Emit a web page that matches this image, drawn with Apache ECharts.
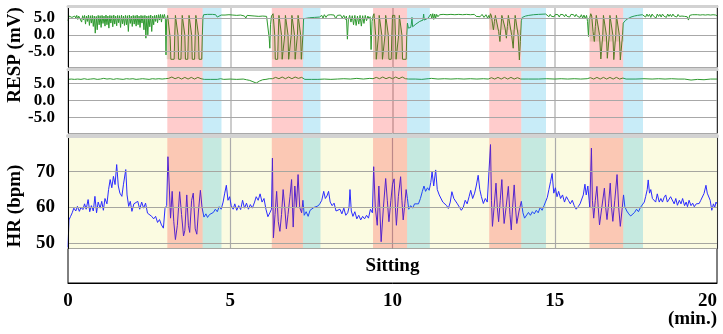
<!DOCTYPE html>
<html><head><meta charset="utf-8">
<script src="https://cdn.jsdelivr.net/npm/echarts@6/dist/echarts.min.js"></script>
<style>html,body{margin:0;padding:0;background:#fff}#c{width:723px;height:334px}</style>
</head><body><div id="c"></div>
<script>
// ---------- data ----------
const xTicks = [0, 5, 10, 15, 20];
const respTicks = [-5, 0, 5];
const hrTicks = [50, 60, 70];
const pinkStart = [3.06, 6.28, 9.40, 12.98, 16.07];
const pinkEnd   = [4.15, 7.24, 10.45, 13.97, 17.11];
const blueEnd   = [4.73, 7.78, 11.15, 14.73, 17.72];
const bandFloor = [-7.3, -7.3, -7.3, 1.5, -2.0];
const phases = [{name: 'Sitting', start: 0, end: 20}];

const resp1 = [
[0,4.2],[0.03,5.6],[0.06,5.4],[0.09,5.8],[0.12,5.2],[0.15,5.7],[0.18,4.8],[0.21,5.6],[0.24,5.0],[0.27,5.8],[0.3,4.6],[0.33,5.6],[0.36,5.2],[0.39,5.9],[0.42,3.8],[0.45,5.7],[0.48,4.5],[0.51,5.8],[0.54,3.2],[0.57,5.6],[0.6,4.0],[0.63,5.9],[0.66,2.8],[0.69,5.7],[0.72,3.5],[0.75,5.8],[0.78,2.5],[0.81,5.6],[0.84,0.5],[0.87,5.5],[0.9,1.5],[0.93,5.8],[0.96,3.0],[0.99,5.7],[1.02,2.2],[1.05,5.8],[1.08,3.4],[1.11,5.6],[1.14,2.6],[1.17,5.9],[1.2,3.0],[1.23,5.6],[1.26,2.0],[1.29,5.8],[1.32,3.5],[1.35,5.7],[1.38,2.4],[1.41,5.9],[1.44,3.2],[1.47,5.6],[1.5,2.7],[1.53,5.8],[1.56,3.6],[1.59,5.7],[1.62,2.2],[1.65,5.9],[1.68,3.3],[1.71,5.6],[1.74,2.8],[1.77,5.8],[1.8,3.0],[1.83,5.7],[1.86,1.0],[1.89,5.9],[1.92,3.4],[1.95,5.6],[1.98,2.5],[2.01,5.8],[2.04,3.2],[2.07,5.7],[2.1,2.6],[2.13,5.9],[2.16,3.0],[2.19,5.6],[2.22,2.2],[2.25,5.8],[2.28,3.5],[2.31,5.7],[2.34,1.5],[2.37,5.8],[2.4,-1.0],[2.43,5.6],[2.46,0.0],[2.49,5.7],[2.52,2.4],[2.55,5.9],[2.58,1.0],[2.61,5.6],[2.64,3.0],[2.67,5.8],[2.7,4.0],[2.73,5.9],[2.76,3.6],[2.79,6.0],[2.82,4.4],[2.85,6.1],[2.88,3.8],[2.91,6.0],[2.94,4.8],[2.97,6.1],
[3.0,4.8],[3.02,-6.0],[3.04,4.5],[3.07,5.8],[3.1,6.2],[3.13,5.8],[3.15,-1],[3.17,-7.3],[3.27,-7.3],[3.29,0],[3.31,5.8],[3.34,6.2],[3.37,5.8],[3.39,0],[3.41,-7.3],[3.48,-7.3],[3.5,0],[3.52,5.8],[3.55,6.2],[3.58,5.8],[3.6,0],[3.62,-7.3],[3.69,-7.3],[3.71,0],[3.73,5.8],[3.76,6.2],[3.79,5.8],[3.81,0],[3.83,-7.3],[3.9,-7.3],[3.92,0],[3.94,5.8],[3.97,6.2],[4.0,5.8],[4.02,0],[4.04,-7.3],[4.12,-7.3],[4.14,0],[4.16,5.3],
[4.18,6.0],[4.3,6.1],[4.45,6.1],[4.55,6.0],[4.6,5.3],[4.66,5.2],[4.72,5.9],
[4.78,6.1],[4.84,5.9],[4.9,6.2],[4.96,6.0],[5.02,6.2],[5.08,5.9],[5.14,6.1],[5.2,5.8],[5.26,6.1],[5.32,5.9],[5.38,6.0],[5.44,5.6],[5.48,5.0],[5.52,5.8],[5.58,6.0],[5.64,5.7],[5.7,5.9],[5.76,5.6],[5.82,5.9],[5.88,5.5],[5.94,5.8],[6.0,5.6],[6.06,5.9],[6.12,5.5],[6.16,5.2],[6.2,-1],[6.22,-4.0],[6.24,3],[6.27,5.6],
[6.29,5.8],[6.32,6.3],[6.35,5.8],[6.37,0],[6.39,-7.3],[6.46,-7.3],[6.48,0],[6.5,5.8],[6.53,6.3],[6.56,5.8],[6.58,0],[6.6,-7.3],[6.66,-7.3],[6.68,0],[6.7,5.8],[6.73,6.3],[6.76,5.8],[6.78,0],[6.8,-7.3],[6.86,-7.3],[6.88,0],[6.9,5.8],[6.93,6.3],[6.96,5.8],[6.98,0],[7.0,-7.3],[7.05,-7.3],[7.07,0],[7.09,5.8],[7.12,6.3],[7.15,5.8],[7.17,0],[7.19,-7.3],[7.22,-7.3],[7.24,0],[7.26,4.8],
[7.3,5.0],[7.45,5.1],[7.6,5.2],[7.75,5.3],
[7.82,5.8],[7.86,5.0],[7.9,6.0],[7.95,5.2],[8.0,5.9],[8.05,5.4],[8.1,6.0],[8.15,5.5],[8.2,5.9],[8.25,4.8],[8.3,5.8],[8.35,5.3],[8.4,5.9],[8.45,5.0],[8.5,5.8],[8.55,4.6],[8.58,5.6],[8.61,-1.3],[8.64,4.5],[8.68,5.8],[8.72,3.8],[8.76,5.7],[8.8,3.0],[8.84,5.8],[8.88,2.8],[8.92,5.6],[8.96,3.2],[9.0,5.8],[9.04,2.6],[9.08,5.7],[9.12,3.4],[9.16,5.8],[9.2,4.2],[9.24,5.6],[9.28,4.8],[9.31,5.4],[9.34,-4.4],[9.37,4.0],
[9.4,5.6],[9.43,6.3],[9.46,5.8],[9.48,0],[9.5,-7.3],[9.55,-7.3],[9.57,0],[9.59,5.8],[9.62,6.3],[9.65,5.8],[9.67,0],[9.69,-7.3],[9.75,-7.3],[9.77,0],[9.79,5.8],[9.82,6.3],[9.85,5.8],[9.87,0],[9.89,-7.3],[9.96,-7.3],[9.98,0],[10.0,5.8],[10.04,6.3],[10.07,5.8],[10.09,0],[10.11,-7.3],[10.17,-7.3],[10.19,0],[10.21,5.8],[10.24,6.3],[10.27,5.8],[10.29,0],[10.31,-7.3],[10.42,-7.3],[10.44,0],[10.46,3.5],
[10.49,2.0],[10.52,1.6],[10.56,2.2],[10.58,3.2],[10.6,5.2],[10.62,2.4],[10.66,2.8],[10.72,3.2],[10.78,3.6],[10.84,4.0],[10.9,4.2],[10.94,4.4],[10.96,6.2],[10.98,4.4],[11.04,4.6],[11.1,5.0],[11.15,5.2],
[11.18,6.2],[11.21,4.8],[11.24,6.3],[11.27,4.6],[11.3,6.2],[11.33,5.0],[11.36,6.1],[11.4,5.4],[11.45,6.0],[11.5,5.6],[11.56,6.1],[11.62,5.7],[11.68,6.0],[11.74,5.6],[11.8,6.1],[11.86,5.8],[11.92,6.0],[11.98,5.6],[12.04,6.1],[12.1,5.7],[12.16,6.0],[12.22,5.6],[12.28,6.1],[12.34,5.8],[12.4,6.0],[12.46,5.6],[12.52,6.1],[12.58,5.5],[12.64,6.0],[12.7,5.4],[12.76,6.1],[12.82,5.2],[12.88,6.0],[12.93,5.0],[12.97,5.8],
[12.99,5.0],[13.02,6.3],[13.05,5.6],[13.08,3.5],[13.11,1.5],[13.14,4.0],[13.17,5.8],[13.2,6.3],[13.23,5.6],[13.27,1.0],[13.31,-2.0],[13.34,2.0],[13.37,5.8],[13.4,6.3],[13.43,5.6],[13.47,2.0],[13.51,-1.0],[13.54,2.5],[13.57,5.8],[13.6,6.3],[13.63,5.6],[13.67,0],[13.72,-4.0],[13.75,1.5],[13.78,5.8],[13.81,6.3],[13.84,5.6],[13.87,0],[13.91,-7.5],[13.94,-2],[13.97,4.2],
[14.0,5.2],[14.1,5.6],[14.2,5.8],[14.35,6.0],[14.5,6.1],[14.72,6.2],
[14.78,6.0],[14.82,5.4],[14.86,6.1],[14.9,5.5],[14.94,6.0],[14.98,5.4],[15.02,6.1],[15.06,5.6],[15.1,6.0],[15.14,5.3],[15.18,6.1],[15.22,5.6],[15.26,6.0],[15.3,5.4],[15.34,6.1],[15.38,5.5],[15.42,6.0],[15.46,5.3],[15.5,6.1],[15.54,5.6],[15.58,6.0],[15.62,5.4],[15.66,6.1],[15.7,5.5],[15.74,6.0],[15.78,5.2],[15.82,6.0],[15.86,5.0],[15.9,5.9],[15.94,4.8],[15.98,5.8],[16.01,4.0],[16.04,-0.5],[16.06,4.5],
[16.08,5.2],[16.11,6.3],[16.14,5.6],[16.18,1.0],[16.22,-2.0],[16.25,2.5],[16.28,5.8],[16.31,6.3],[16.34,5.6],[16.38,0],[16.42,-7.2],[16.46,-7.2],[16.48,0],[16.5,5.8],[16.53,6.3],[16.56,5.6],[16.59,0],[16.62,-7.0],[16.66,-7.0],[16.68,0],[16.7,5.8],[16.73,6.3],[16.76,5.6],[16.79,0],[16.82,-7.4],[16.86,-7.4],[16.88,0],[16.9,5.8],[16.93,6.3],[16.96,5.6],[16.99,0],[17.02,-7.5],[17.07,-7.5],[17.09,0],[17.11,3.5],
[17.13,3.6],[17.18,4.3],[17.25,4.8],[17.35,5.3],[17.45,5.6],[17.55,5.8],[17.7,6.0],
[17.76,6.1],[17.8,5.3],[17.84,6.2],[17.88,5.5],[17.92,6.1],[17.96,5.2],[18.0,6.2],[18.04,5.6],[18.08,6.0],[18.12,5.0],[18.16,6.2],[18.2,5.5],[18.24,6.1],[18.28,5.3],[18.32,6.2],[18.36,5.6],[18.4,6.0],[18.44,5.2],[18.48,6.2],[18.52,5.5],[18.56,6.1],[18.6,5.4],[18.64,6.2],[18.68,5.6],[18.72,6.0],[18.76,5.3],[18.8,6.1],[18.84,5.5],[18.88,6.0],[18.92,5.6],[18.96,6.1],[19.0,5.5],[19.04,6.0],[19.08,5.4],[19.12,4.4],[19.16,5.8],[19.2,5.5],[19.24,6.0],[19.28,5.6],[19.32,6.0],[19.36,5.5],[19.4,6.0],[19.44,5.6],[19.48,5.9],[19.52,5.5],[19.56,6.0],[19.6,5.6],[19.64,5.9],[19.68,5.5],[19.72,6.0],[19.76,5.6],[19.8,5.9],[19.84,5.5],[19.88,6.0],[19.92,5.6],[19.96,5.9],[20,5.7]
];

const resp2 = [
[0,6.3],[0.1,6.4],[0.2,6.3],[0.3,6.4],[0.4,6.3],[0.5,6.5],[0.6,6.3],[0.7,6.4],[0.8,6.5],[0.9,6.3],[1.0,6.4],[1.1,6.6],[1.2,6.4],[1.3,6.5],[1.4,6.3],[1.5,6.5],[1.6,6.4],[1.7,6.3],[1.8,6.5],[1.9,6.4],[2.0,6.5],[2.1,6.3],[2.2,6.4],[2.3,6.5],[2.4,6.4],[2.5,6.3],[2.6,6.5],[2.7,6.4],[2.8,6.5],[2.9,6.4],[3.0,6.5],
[3.1,6.6],[3.2,7.0],[3.3,6.5],[3.4,6.9],[3.5,6.4],[3.6,6.9],[3.7,6.4],[3.8,6.9],[3.9,6.4],[4.0,6.9],[4.1,6.5],[4.2,6.3],
[4.4,6.3],[4.6,6.3],[4.7,6.5],[4.8,6.3],[5.0,6.4],[5.2,6.3],[5.4,6.4],[5.5,6.2],[5.6,6.0],[5.7,5.6],[5.8,5.2],[5.9,5.8],[6.0,6.2],[6.1,6.3],[6.2,6.5],
[6.3,6.5],[6.4,6.9],[6.5,6.5],[6.6,7.0],[6.7,6.5],[6.8,7.0],[6.9,6.5],[7.0,7.0],[7.1,6.6],[7.2,6.9],[7.3,6.3],
[7.5,6.3],[7.7,6.3],[7.9,6.4],[8.1,6.3],[8.3,6.4],[8.5,6.5],[8.7,6.4],[8.9,6.6],[9.1,6.4],[9.3,6.6],
[9.4,6.5],[9.5,6.9],[9.6,6.5],[9.7,7.0],[9.8,6.5],[9.9,6.9],[10.0,6.5],[10.1,7.0],[10.2,6.5],[10.3,7.0],[10.4,6.5],[10.5,6.4],
[10.7,6.4],[10.9,6.3],[11.1,6.5],[11.2,6.6],[11.4,6.4],[11.6,6.5],[11.8,6.4],[12.0,6.5],[12.2,6.4],[12.4,6.5],[12.6,6.4],[12.8,6.5],[12.95,6.4],
[13.05,6.8],[13.15,6.4],[13.25,6.9],[13.35,6.4],[13.45,6.9],[13.55,6.4],[13.65,6.9],[13.75,6.4],[13.85,6.8],[13.95,6.4],
[14.2,6.4],[14.5,6.4],[14.75,6.5],[15.0,6.4],[15.2,6.5],[15.4,6.4],[15.6,6.5],[15.8,6.4],[16.0,6.5],
[16.1,6.8],[16.2,6.4],[16.3,6.9],[16.4,6.4],[16.5,6.9],[16.6,6.4],[16.7,6.9],[16.8,6.4],[16.9,6.9],[17.0,6.4],[17.1,6.7],[17.2,6.4],
[17.5,6.4],[17.75,6.5],[18.0,6.4],[18.2,6.5],[18.4,6.4],[18.6,6.5],[18.8,6.4],[19.0,6.4],[19.2,6.1],[19.4,6.3],[19.6,6.2],[19.8,6.4],[20,6.4]
];

const hr = [
[0,48.8],[0.03,56.5],[0.08,57.5],[0.13,58.5],[0.18,59.8],[0.24,59.0],[0.29,60.3],[0.35,58.9],[0.40,60.0],[0.46,59.4],[0.51,61.0],[0.56,59.5],[0.62,62.2],[0.67,58.8],[0.72,60.5],[0.78,59.0],[0.83,63.1],[0.88,58.5],[0.93,61.5],[0.99,59.8],[1.04,61.7],[1.09,59.2],[1.14,62.5],[1.20,61.0],[1.25,65.0],[1.30,67.8],[1.35,65.5],[1.40,68.7],[1.45,66.4],[1.50,72.0],[1.55,66.0],[1.60,64.0],[1.66,63.1],[1.71,66.5],[1.78,70.6],[1.82,63.5],[1.87,60.3],[1.92,61.7],[1.97,58.9],[2.03,61.0],[2.09,60.5],[2.15,61.7],[2.21,59.5],[2.27,61.5],[2.33,59.8],[2.39,61.2],[2.45,58.4],[2.51,58.0],[2.58,57.5],[2.64,56.8],[2.70,57.5],[2.76,55.8],[2.82,56.6],[2.88,55.1],[2.94,54.2],[2.99,59.8],[3.04,60.5],
[3.08,74.2],[3.12,66],[3.16,57],[3.21,64.5],[3.26,56],[3.31,51],[3.37,55],[3.44,64.4],[3.50,58],[3.56,52],[3.60,53.5],[3.66,63.5],[3.71,55],[3.75,53],[3.81,62],[3.86,64],[3.92,54],[3.97,52.5],[4.02,59],[4.08,64.8],[4.13,60],[4.19,57.3],
[4.25,58.2],[4.3,57.2],[4.36,58],[4.42,57.6],[4.48,58.6],[4.54,59.5],[4.6,58.8],[4.66,60.2],[4.72,59.5],[4.78,61.5],[4.83,64],[4.88,66.2],[4.93,62],[4.98,63.0],[5.03,60.5],[5.09,59.5],
[5.14,61],[5.2,59.2],[5.26,60.5],[5.32,59.4],[5.38,62],[5.44,59.8],[5.5,61.2],[5.56,59.5],[5.62,60.8],[5.68,59.8],[5.75,61.5],[5.8,63],[5.86,62],[5.92,63.8],[5.98,61.5],[6.04,62.5],[6.1,59.5],[6.16,57.4],[6.22,58.5],[6.27,59.5],
[6.3,73.8],[6.33,51.5],[6.38,58],[6.43,64.5],[6.48,56],[6.53,53.3],[6.58,58],[6.63,65],[6.68,60],[6.73,54],[6.78,58],[6.84,63],[6.89,67.8],[6.94,54.5],[6.99,66],[7.04,60],[7.09,69.2],[7.14,60],[7.2,58.5],[7.24,62],
[7.28,57.8],[7.34,58.8],[7.4,57.5],[7.46,59.2],[7.52,59.5],[7.58,60.0],[7.64,60.5],[7.7,60.4],[7.76,61],
[7.82,62],[7.88,64.5],[7.93,62.5],[7.98,63.2],[8.03,64.5],[8.08,61.5],[8.14,60.5],[8.2,61.2],[8.26,59],[8.32,58.5],[8.38,59.5],[8.44,58.2],[8.5,59.8],[8.56,57.8],[8.62,58.5],[8.66,60],[8.69,65],[8.73,59],[8.78,57.5],[8.84,58.8],[8.9,56.8],[8.96,57.8],[9.02,56.5],[9.08,57.5],[9.14,56.8],[9.2,57.8],[9.26,57],[9.32,59.5],[9.38,58.5],
[9.42,71.4],[9.47,60],[9.53,55],[9.58,66],[9.65,50.4],[9.72,60],[9.79,68.1],[9.84,62],[9.89,56],[9.95,62],[10.0,66.5],[10.05,68.0],[10.09,60],[10.12,55],[10.18,63],[10.25,68.6],[10.29,62],[10.33,56.5],[10.38,61],[10.42,65],[10.46,62.5],
[10.5,59.5],[10.56,60.5],[10.62,59.8],[10.68,61],[10.74,61.5],[10.8,61],[10.86,62.5],[10.92,64.5],[10.97,66],[11.02,64.5],[11.08,65.5],[11.13,64.8],
[11.18,67],[11.22,70],[11.27,66],[11.33,70.5],[11.38,65],[11.44,63.5],[11.5,64],[11.55,61.5],[11.61,61],[11.67,60.5],[11.72,59.7],[11.78,61.5],[11.83,64.4],[11.89,62.5],[11.95,62],[12.0,61],[12.06,60.5],[12.12,59.2],[12.18,60],[12.24,62],[12.3,61],[12.36,63],[12.41,64.8],[12.47,62.5],[12.53,64],[12.58,66],[12.64,69],[12.69,65],[12.74,63],[12.8,61.1],[12.86,62.5],[12.92,61.5],[12.97,62],
[13.02,77.6],[13.05,62],[13.08,54.7],[13.13,60],[13.19,66.8],[13.23,60],[13.27,56],[13.32,62],[13.37,67.8],[13.41,60],[13.44,55.5],[13.5,60],[13.57,65.9],[13.62,58],[13.66,53.7],[13.7,60],[13.75,66.3],[13.79,60],[13.83,55.5],[13.9,59],[13.97,61.7],
[14.02,58.5],[14.07,57.0],[14.13,57.5],[14.19,58.6],[14.25,57.8],[14.31,58.8],[14.37,58.2],[14.43,59.2],[14.49,58.5],[14.55,60],[14.61,59.2],[14.67,60.5],[14.72,60.2],
[14.77,62.8],[14.82,65],[14.87,67.2],[14.92,69.5],[14.97,64],[15.02,65.5],[15.07,63],[15.12,64.5],[15.18,62.5],[15.24,63.5],[15.3,61.5],[15.36,63],[15.42,62],[15.48,61],[15.54,62],[15.6,60.5],[15.66,59.5],[15.72,60.2],[15.78,61],[15.83,60.5],[15.88,63.5],[15.93,66.5],[15.97,63.5],[16.02,66],[16.06,62],
[16.08,60],[16.13,76.6],[16.16,62],[16.2,57],[16.25,62],[16.3,65.9],[16.34,60],[16.38,55.1],[16.45,60],[16.53,65.4],[16.57,60],[16.61,56.6],[16.66,61],[16.71,66.8],[16.75,60],[16.79,56.1],[16.85,62],[16.92,69.2],[16.97,60],[17.02,54.7],[17.07,59],[17.12,63.5],
[17.16,60.2],[17.22,59],[17.28,58.2],[17.34,57.6],[17.4,57.8],[17.46,58.6],[17.52,59.5],[17.58,58.8],[17.64,60],[17.7,60.5],
[17.76,61.5],[17.8,63],[17.85,65],[17.88,67.7],[17.92,64],[17.96,65],[18.01,62.5],[18.06,63],[18.11,61.5],[18.16,63.8],[18.22,61.5],[18.27,62.5],[18.32,61.5],[18.37,62.8],[18.42,63.5],[18.47,61.5],[18.52,61.6],[18.57,63],[18.63,63],[18.68,61],[18.73,62.5],[18.78,60.6],[18.84,62],[18.89,61],[18.94,62.5],[19.0,60.5],[19.05,61.5],[19.09,60.2],[19.14,62],[19.2,60.5],[19.25,61.2],[19.3,60.2],[19.36,61],[19.41,60.5],[19.45,61.1],[19.5,62],[19.55,62.5],[19.6,63.9],[19.66,66.2],[19.7,64],[19.74,63.5],[19.79,62],[19.84,59.2],[19.89,61],[19.93,60],[19.97,61.5],[20,61]
];

// ---------- chart ----------
const PINK = 'rgba(255,0,0,0.2)';
const BLUE = 'rgba(5,169,223,0.22)';
const SERIF = "'Liberation Serif', 'Times New Roman', serif";

const bands = [];
pinkStart.forEach((s, i) => {
  bands.push([s, pinkEnd[i], 0]);
  bands.push([pinkEnd[i], blueEnd[i], 1]);
});

const fillSeries = pinkStart.map((s, i) => ({
  type: 'line', xAxisIndex: 0, yAxisIndex: 0, showSymbol: false, symbol: 'none', silent: true,
  data: resp1.filter(p => p[0] >= s - 0.025 && p[0] <= pinkEnd[i] + 0.02),
  lineStyle: {width: 0, opacity: 0},
  areaStyle: {origin: bandFloor[i], color: 'rgba(80,150,50,0.24)'}, z: 2
}));

function renderBand(params, api) {
  const s = api.value(0), e = api.value(1), kind = api.value(2);
  const p0 = api.coord([s, 0]), p1 = api.coord([e, 0]);
  const cs = params.coordSys;
  return {type: 'rect', shape: {x: p0[0], y: cs.y, width: p1[0] - p0[0], height: cs.height},
          style: {fill: kind ? BLUE : PINK}};
}
function renderPhase(params, api) {
  const s = api.value(0), e = api.value(1);
  const p0 = api.coord([s, 0.5]), p1 = api.coord([e, 0.5]);
  return {type: 'text', x: (p0[0] + p1[0]) / 2, y: p0[1],
          style: {text: phases[params.dataIndex].name, align: 'center', verticalAlign: 'middle',
                  font: "bold 19px " + SERIF, fill: '#000'}};
}

const gridsDef = [
  {left: 68, right: 6, top: 6, height: 61},
  {left: 68, right: 6, top: 69, height: 64},
  {left: 68, right: 6, top: 136, height: 112.5, show: true, backgroundColor: '#fbfbe1', borderWidth: 0},
  {left: 68, right: 6, top: 248.5, height: 34.5, show: true, backgroundColor: '#fff', borderColor: '#000', borderWidth: 1}
];

function xAx(gi, splitColor, splitW) {
  return {type: 'value', gridIndex: gi, min: 0, max: 20, interval: 5,
    axisLine: {show: false}, axisTick: {show: false}, axisLabel: {show: false},
    splitLine: {show: true, lineStyle: {color: splitColor, width: splitW}}};
}
function topAx(gi, w) {
  return {type: 'value', gridIndex: gi, position: 'top', min: 0, max: 20, z: 10,
    axisLine: {show: true, onZero: false, lineStyle: {color: '#d2d2d2', width: w}},
    axisTick: {show: false}, axisLabel: {show: false}, splitLine: {show: false}};
}
function yAx(gi, min, max, ticks, fmt, fs, splitColor) {
  return {type: 'value', gridIndex: gi, min: min, max: max, splitNumber: 3, z: 10,
    axisLine: {show: true, onZero: false, lineStyle: {color: '#000', width: 1}},
    axisTick: {show: false},
    axisLabel: {show: true, margin: 13, showMinLabel: true, showMaxLabel: true,
      formatter: v => ticks.some(t => Math.abs(t - v) < 1e-9) ? fmt(v) : '',
      fontFamily: SERIF, fontWeight: 'bold', fontSize: fs, color: '#000'},
    splitLine: {show: true, lineStyle: {color: splitColor, width: 1}}};
}
function rightAx(gi) {
  return {type: 'value', gridIndex: gi, position: 'right', min: 0, max: 1, z: 10,
    axisLine: {show: true, onZero: false, lineStyle: {color: '#333', width: 1}},
    axisTick: {show: false}, axisLabel: {show: false}, splitLine: {show: false}};
}

const option = {
  animation: false,
  backgroundColor: '#fff',
  grid: gridsDef,
  xAxis: [
    xAx(0, '#cccccc', 2),
    xAx(1, '#cccccc', 2),
    xAx(2, '#ababab', 1.2),
    {type: 'value', gridIndex: 3, min: 0, max: 20, interval: 5,
      axisLine: {show: true, lineStyle: {color: '#000'}}, axisTick: {show: false},
      axisLabel: {show: true, margin: 9, alignMaxLabel: 'right',
        formatter: v => xTicks.includes(v) ? String(v) : '',
        fontFamily: SERIF, fontWeight: 'bold', fontSize: 19, color: '#000'},
      splitLine: {show: false}},
    topAx(0, 3), topAx(1, 3), topAx(2, 4)
  ],
  yAxis: [
    yAx(0, -9.6, 8.6, respTicks, v => v.toFixed(1), 17, '#a8a8a8'),
    yAx(1, -9.7, 9.4, respTicks, v => v.toFixed(1), 17, '#a8a8a8'),
    yAx(2, 48.5, 80, hrTicks, v => String(v), 19, '#a6a6a0'),
    {type: 'value', gridIndex: 3, min: 0, max: 1, show: false},
    rightAx(0), rightAx(1), rightAx(2)
  ],
  series: fillSeries.concat([
    {type: 'line', name: 'RESP', xAxisIndex: 0, yAxisIndex: 0, data: resp1, showSymbol: false, symbol: 'none',
      silent: true, lineStyle: {color: '#2f9a2f', width: 1}, z: 3},
    {type: 'line', name: 'RESP2', xAxisIndex: 1, yAxisIndex: 1, data: resp2, showSymbol: false, symbol: 'none',
      silent: true, lineStyle: {color: '#2f9a2f', width: 1}, z: 3},
    {type: 'line', name: 'HR', xAxisIndex: 2, yAxisIndex: 2, data: hr, showSymbol: false, symbol: 'none',
      silent: true, lineStyle: {color: '#2b2bff', width: 1}, z: 3},
    {type: 'custom', xAxisIndex: 0, yAxisIndex: 0, data: bands, renderItem: renderBand, silent: true, z: 5, clip: true},
    {type: 'custom', xAxisIndex: 1, yAxisIndex: 1, data: bands, renderItem: renderBand, silent: true, z: 5, clip: true},
    {type: 'custom', xAxisIndex: 2, yAxisIndex: 2, data: bands, renderItem: renderBand, silent: true, z: 5, clip: true},
    {type: 'custom', xAxisIndex: 3, yAxisIndex: 3, data: phases.map(p => [p.start, p.end]),
      renderItem: renderPhase, silent: true, z: 5}
  ]),
  graphic: [
    {type: 'text', x: 15, y: 55, rotation: Math.PI / 2,
      style: {text: 'RESP (mV)', align: 'center', verticalAlign: 'middle', font: "bold 19px " + SERIF, fill: '#000'}},
    {type: 'text', x: 15, y: 206, rotation: Math.PI / 2,
      style: {text: 'HR (bpm)', align: 'center', verticalAlign: 'middle', font: "bold 19px " + SERIF, fill: '#000'}},
    {type: 'text', right: 6, top: 310,
      style: {text: '(min.)', font: "bold 19px " + SERIF, fill: '#000'}}
  ]
};

const chart = echarts.init(document.getElementById('c'), null, {renderer: 'canvas'});
chart.setOption(option);
</script>
</body></html>
